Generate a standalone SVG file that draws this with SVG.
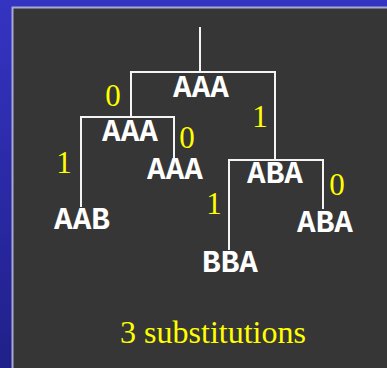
<svg xmlns="http://www.w3.org/2000/svg" width="387" height="368" viewBox="0 0 387 368">
<style>
.seq{font-family:"Liberation Mono","Courier New",monospace;font-weight:bold;font-size:31px;fill:#ffffff;text-anchor:middle}
.lbl{font-family:"Liberation Serif","Times New Roman",serif;font-size:31px;fill:#ffff00;text-anchor:middle}
.edge{stroke:#f4f4f4;stroke-width:2;fill:none}
</style>
<defs>
<linearGradient id="bg" x1="0" y1="0" x2="0" y2="1">
<stop offset="0" stop-color="#3434c2"/>
<stop offset="1" stop-color="#20208a"/>
</linearGradient>
</defs>
<rect x="0" y="0" width="387" height="368" fill="url(#bg)"/>
<rect x="12.5" y="7.5" width="380" height="370" fill="#363636" stroke="#a8a8d4" stroke-width="2"/>
<g id="connectors">
<path class="edge" d="M200,27 V72"/>
<path class="edge" d="M131,117 V72 H275 V160"/>
<path class="edge" d="M81,207 V117 H174 V158"/>
<path class="edge" d="M229,250 V160 H323 V209"/>
</g>
<g id="root"><text class="seq" x="201" y="97">AAA</text></g>
<g id="n_left"><text class="seq" x="130" y="141">AAA</text></g>
<g id="n_right"><text class="seq" x="275" y="183">ABA</text></g>
<g id="leaf_aab"><text class="seq" x="82" y="229">AAB</text></g>
<g id="leaf_aaa"><text class="seq" x="175" y="179">AAA</text></g>
<g id="leaf_bba"><text class="seq" x="230" y="272">BBA</text></g>
<g id="leaf_aba"><text class="seq" x="325" y="232">ABA</text></g>
<g id="edge_labels">
<text class="lbl" x="113" y="106">0</text>
<text class="lbl" x="260" y="127">1</text>
<text class="lbl" x="64" y="173">1</text>
<text class="lbl" x="187" y="148">0</text>
<text class="lbl" x="214" y="214">1</text>
<text class="lbl" x="337" y="195">0</text>
</g>
<text class="lbl" x="213" y="343" style="font-size:32px">3 substitutions</text>
</svg>
